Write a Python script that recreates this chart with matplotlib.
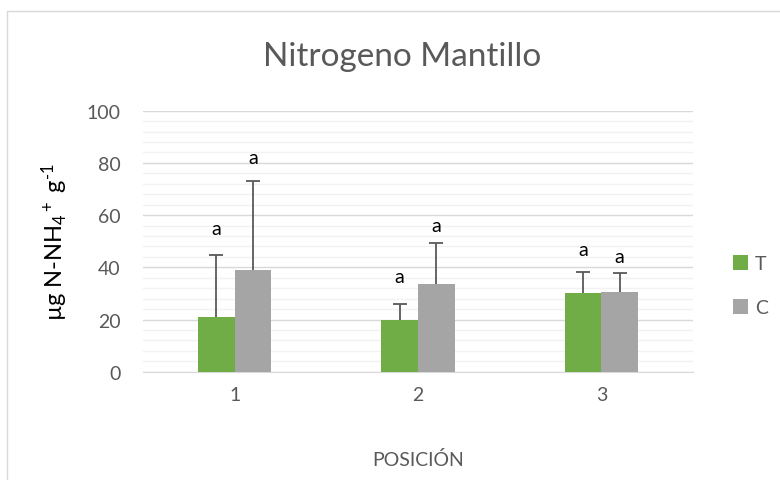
import matplotlib
matplotlib.use("Agg")
import matplotlib.pyplot as plt
import numpy as np
from matplotlib.patches import Rectangle

categories = ["1", "2", "3"]
T_values = [20.8, 19.8, 30.0]
T_err = [24.0, 6.1, 8.3]
C_values = [39.0, 33.7, 30.6]
C_err = [34.2, 15.7, 7.3]
T_letters = ["a", "a", "a"]
C_letters = ["a", "a", "a"]
T_letter_y = [54.7, 36.3, 47.0]
C_letter_y = [82.1, 56.2, 44.0]
yticks = [0, 20, 40, 60, 80, 100]

plt.rcParams['font.family'] = ['Lato', 'DejaVu Sans']
plt.rcParams['mathtext.fontset'] = 'custom'
plt.rcParams['mathtext.rm'] = 'Lato'
plt.rcParams['mathtext.it'] = 'Lato:italic'

fig = plt.figure(figsize=(7.8, 4.81), dpi=100)
fig.patches.append(Rectangle((7/780, -0.1), 1.2, (481-12)/481 + 0.1,
                             transform=fig.transFigure, fill=False,
                             edgecolor='#D9D9D9', linewidth=1.0))
ax = fig.add_axes([143/780, 108.3/481, 550/780, 261/481])

x = np.arange(1, len(categories) + 1)
w = 0.2
green = '#70AD47'
gray = '#A5A5A5'
ecol = '#595959'

ax.bar(x - w/2, T_values, w, color=green, zorder=3, label='T')
ax.bar(x + w/2, C_values, w, color=gray, zorder=3, label='C')
for xs, vals, errs in [(x - w/2, T_values, T_err), (x + w/2, C_values, C_err)]:
    eb = ax.errorbar(xs, vals, yerr=[np.zeros(len(vals)), errs], fmt='none',
                     ecolor=ecol, elinewidth=1.3, capsize=5, capthick=1.3, zorder=4)
    caps = eb.lines[1]
    if len(caps) == 2:
        caps[0].set_visible(False)

for xi, ly, t in zip(x - w/2, T_letter_y, T_letters):
    ax.text(xi, ly, t, ha='center', va='center', fontsize=14, color='black', zorder=5)
for xi, ly, t in zip(x + w/2, C_letter_y, C_letters):
    ax.text(xi, ly, t, ha='center', va='center', fontsize=14, color='black', zorder=5)

ax.set_xlim(0.5, 3.5)
ax.set_ylim(0, 100)
ax.set_yticks(yticks)
ax.set_yticks(np.arange(0, 101, 4), minor=True)
ax.set_xticks(x)
ax.set_xticklabels(categories)
ax.grid(axis='y', which='minor', color='#F2F2F2', linewidth=1.0, zorder=0)
ax.grid(axis='y', which='major', color='#D9D9D9', linewidth=1.0, zorder=1)
ax.tick_params(axis='both', which='both', length=0, labelsize=14, colors='#595959')
ax.tick_params(axis='y', pad=16)
ax.tick_params(axis='x', pad=10)
for s in ['top', 'right', 'left']:
    ax.spines[s].set_visible(False)
ax.spines['bottom'].set_color('#D9D9D9')

ax.set_xlabel('POSICIÓN', fontsize=14, color='#595959', labelpad=34)
ax.set_ylabel(r'µg N-NH$_4$$^+$ g$^{\text{-}1}$', fontsize=17, color='black', labelpad=12)

fig.text(402/780, 1 - 57/481, 'Nitrogeno Mantillo', ha='center', va='center',
         fontsize=24, color='#595959')

leg = ax.legend(loc='center left', bbox_to_anchor=(1.04, 0.33), frameon=False,
                fontsize=14, handlelength=0.8, handleheight=0.8,
                labelspacing=1.4, handletextpad=0.35)
for t in leg.get_texts():
    t.set_color('#595959')

fig.savefig('out.png', dpi=100)
